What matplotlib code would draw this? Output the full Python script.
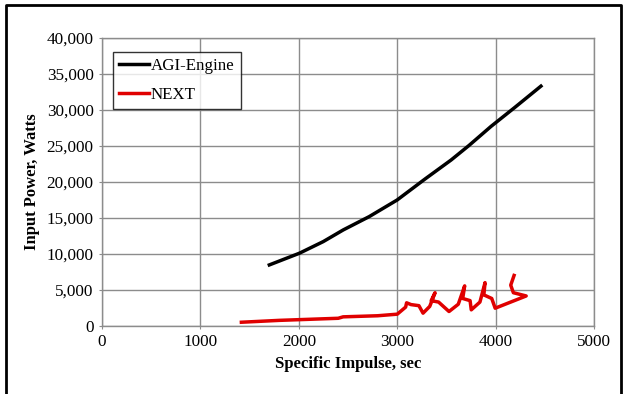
import matplotlib
matplotlib.use('Agg')
import matplotlib.pyplot as plt
from matplotlib.lines import Line2D
from matplotlib.ticker import FuncFormatter

# AGI-Engine curve
agi_isp = [1700, 2005, 2248, 2451, 2715, 2999, 3283, 3547, 3729, 3953, 4196, 4460]
agi_power = [8460, 10080, 11700, 13320, 15170, 17480, 20400, 23030, 25050, 27700, 30350, 33290]

# NEXT curve (hand-traced, loops back on itself)
next_isp = [1416, 1800, 2400, 2450, 2800, 3000, 3085, 3095, 3140, 3220, 3262,
            3330, 3384, 3345, 3420, 3526, 3620, 3685, 3665, 3740, 3752,
            3840, 3892, 3880, 3960, 3995, 4310, 4180, 4153, 4187]
next_power = [500, 760, 1050, 1250, 1400, 1620, 2600, 3200, 2950, 2800, 1760,
              2700, 4600, 3500, 3300, 1990, 3000, 5550, 3800, 3500, 2220,
              3300, 6000, 4300, 3800, 2450, 4150, 4600, 5650, 7000]

plt.rcParams['font.family'] = ['Liberation Serif', 'DejaVu Serif']

fig = plt.figure(figsize=(6.26, 3.94), dpi=100)
ax = fig.add_axes([0.163, 0.173, 0.786, 0.731])

ax.plot(agi_isp, agi_power, color='black', linewidth=2.5, label='AGI-Engine')
ax.plot(next_isp, next_power, color='#e00000', linewidth=2.5, label='NEXT')

ax.set_xlim(0, 5000)
ax.set_ylim(0, 40000)
ax.set_xticks(range(0, 5001, 1000))
ax.set_yticks(range(0, 40001, 5000))
ax.yaxis.set_major_formatter(FuncFormatter(lambda v, p: '{:,.0f}'.format(v)))
ax.grid(True, color='#8c8c8c', linewidth=1.0)
ax.set_axisbelow(True)
for s in ax.spines.values():
    s.set_color('#8c8c8c')
    s.set_linewidth(1.0)
ax.tick_params(axis='both', labelsize=12.3, length=2, color='#8c8c8c', pad=4)

ax.set_xlabel('Specific Impulse, sec', fontsize=12, fontweight='bold', labelpad=4)
ax.set_ylabel('Input Power, Watts', fontsize=12, fontweight='bold', labelpad=5)

leg = ax.legend(loc='upper left', bbox_to_anchor=(0.022, 0.95), fontsize=12.2,
                frameon=True, fancybox=False, handlelength=1.8, handletextpad=0.1,
                borderpad=0.35, labelspacing=0.75, borderaxespad=0)
leg.get_frame().set_edgecolor('black')
leg.get_frame().set_linewidth(1.0)

# outer frame (bottom edge cut off in the original)
W, H = 626.0, 394.0
x0, x1, y0 = 6 / W, 621 / W, 1 - 5 / H
fig.add_artist(Line2D([x0, x0, x1, x1], [0, y0, y0, 0], color='black', linewidth=2,
                      transform=fig.transFigure))

fig.savefig('out.png', dpi=100)
